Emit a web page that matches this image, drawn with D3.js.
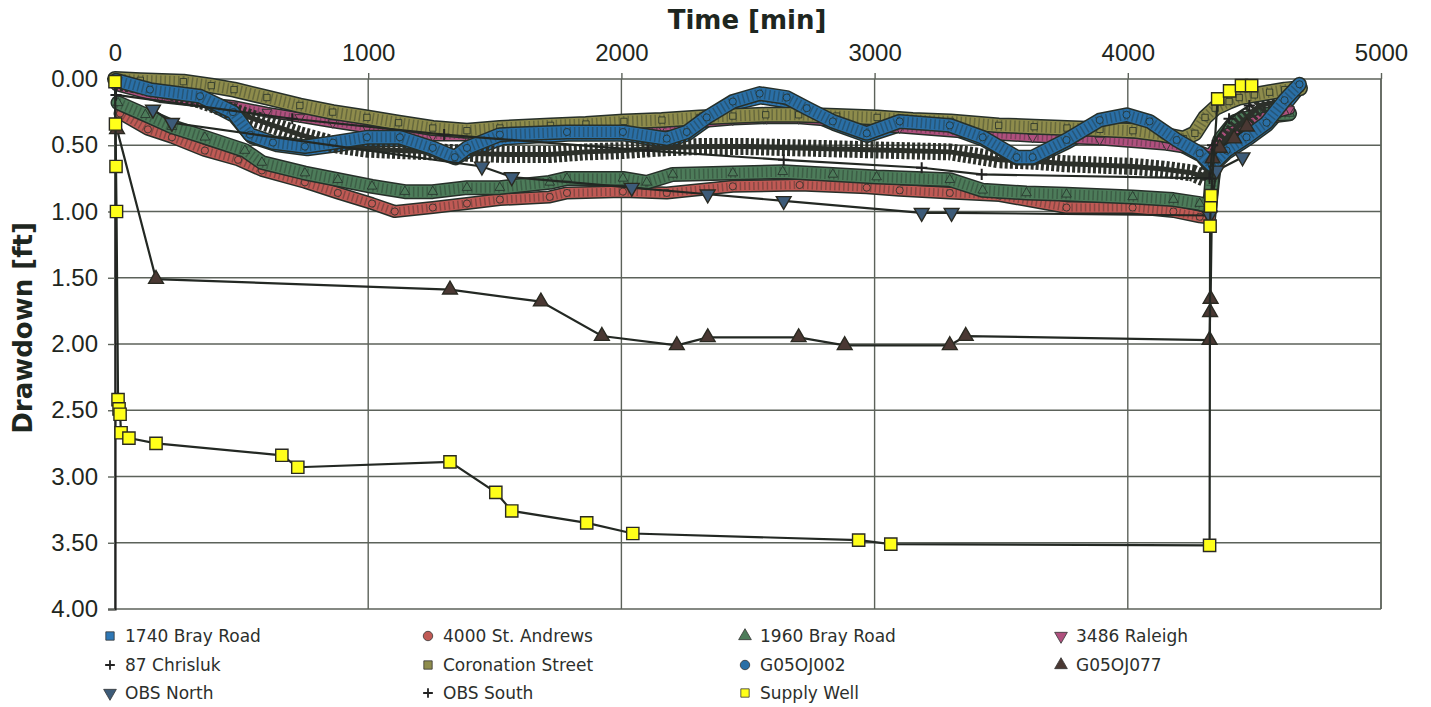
<!DOCTYPE html>
<html>
<head>
<meta charset="utf-8">
<script src="https://cdn.jsdelivr.net/npm/d3@7"></script>
<style>
  body { margin: 0; background: #fff; }
  svg { display: block; font-family: "DejaVu Sans", Verdana, sans-serif; }
</style>
</head>
<body>
<svg id="chart" width="1431" height="707"></svg>
<script>
// ---- data (time in min, drawdown in ft) ----
const xTicks = [0, 1000, 2000, 3000, 4000, 5000]
const yTicks = [0, 0.5, 1, 1.5, 2, 2.5, 3, 3.5, 4]

const bray1740X = [4, 150, 340, 470, 540, 640, 760, 880, 1000, 1130, 1260, 1345, 1400, 1530, 1790, 2010, 2180, 2260, 2340, 2440, 2550, 2650, 2730, 2840, 2970, 3100, 3300, 3430, 3560, 3630, 3760, 3890, 4000, 4090, 4190, 4290, 4330, 4390, 4470, 4550, 4620, 4670]
const bray1740D = [0.03, 0.10, 0.15, 0.28, 0.44, 0.50, 0.53, 0.50, 0.46, 0.46, 0.54, 0.60, 0.54, 0.45, 0.42, 0.42, 0.47, 0.42, 0.31, 0.19, 0.14, 0.17, 0.25, 0.34, 0.43, 0.35, 0.37, 0.46, 0.60, 0.60, 0.48, 0.34, 0.30, 0.35, 0.48, 0.58, 0.67, 0.56, 0.46, 0.35, 0.20, 0.08]

const andrewsX = [20, 130, 225, 355, 486, 580, 750, 880, 1015, 1105, 1255, 1390, 1520, 1717, 1785, 2006, 2179, 2440, 2704, 2969, 3099, 3297, 3494, 3758, 4019, 4180, 4284, 4323, 4339, 4355, 4410, 4457, 4560, 4639]
const andrewsD = [0.26, 0.38, 0.44, 0.54, 0.61, 0.69, 0.78, 0.86, 0.94, 1.00, 0.97, 0.94, 0.91, 0.89, 0.86, 0.85, 0.86, 0.81, 0.80, 0.82, 0.84, 0.86, 0.88, 0.97, 0.97, 1.00, 1.04, 1.05, 0.76, 0.54, 0.48, 0.36, 0.29, 0.27]

const bray1960X = [12, 120, 225, 355, 513, 580, 750, 880, 1015, 1145, 1255, 1390, 1520, 1717, 1785, 2006, 2100, 2203, 2440, 2637, 2835, 3008, 3297, 3427, 3600, 3758, 4019, 4180, 4284, 4323, 4335, 4363, 4422, 4520, 4639]
const bray1960D = [0.18, 0.27, 0.36, 0.44, 0.54, 0.63, 0.71, 0.76, 0.81, 0.85, 0.85, 0.82, 0.82, 0.78, 0.75, 0.75, 0.78, 0.72, 0.71, 0.70, 0.72, 0.74, 0.76, 0.84, 0.86, 0.87, 0.89, 0.91, 0.94, 0.97, 0.69, 0.46, 0.32, 0.27, 0.26]

const raleighX = [4, 178, 320, 466, 600, 730, 860, 995, 1120, 1255, 1390, 1520, 1785, 2006, 2160, 2310, 2440, 2574, 2700, 2835, 2970, 3099, 3364, 3624, 3889, 4153, 4284, 4323, 4382, 4461, 4560, 4639]
const raleighD = [0.05, 0.14, 0.17, 0.20, 0.25, 0.29, 0.33, 0.37, 0.40, 0.43, 0.43, 0.42, 0.40, 0.38, 0.36, 0.33, 0.31, 0.30, 0.30, 0.32, 0.35, 0.37, 0.41, 0.44, 0.46, 0.50, 0.54, 0.57, 0.42, 0.35, 0.27, 0.23]

const chrislukX = [4, 170, 336, 533, 730, 880, 1000, 1125, 1260, 1390, 1550, 1717, 1860, 2006, 2160, 2310, 2500, 2704, 2900, 3099, 3297, 3494, 3630, 3758, 3890, 4019, 4140, 4256, 4303, 4331, 4382, 4461, 4520, 4600]
const chrislukD = [0.02, 0.07, 0.16, 0.29, 0.42, 0.50, 0.53, 0.54, 0.55, 0.56, 0.57, 0.57, 0.55, 0.54, 0.52, 0.51, 0.51, 0.52, 0.53, 0.54, 0.55, 0.61, 0.62, 0.64, 0.65, 0.66, 0.68, 0.71, 0.75, 0.65, 0.46, 0.31, 0.20, 0.17]

const coronationX = [0, 100, 270, 380, 470, 600, 730, 860, 995, 1120, 1255, 1390, 1520, 1720, 1860, 2010, 2160, 2310, 2440, 2570, 2700, 2850, 3010, 3150, 3300, 3490, 3630, 3760, 3890, 4020, 4140, 4220, 4265, 4305, 4345, 4400, 4440, 4500, 4560, 4620, 4680]
const coronationD = [0.00, 0.01, 0.02, 0.05, 0.08, 0.14, 0.20, 0.25, 0.29, 0.33, 0.37, 0.39, 0.37, 0.35, 0.34, 0.32, 0.31, 0.29, 0.28, 0.27, 0.27, 0.28, 0.29, 0.31, 0.32, 0.35, 0.36, 0.37, 0.38, 0.39, 0.42, 0.45, 0.41, 0.29, 0.22, 0.17, 0.14, 0.12, 0.10, 0.08, 0.07]

const g002X = [4, 138, 336, 466, 533, 624, 750, 861, 995, 1125, 1255, 1342, 1390, 1520, 1785, 2006, 2179, 2258, 2337, 2440, 2546, 2653, 2732, 2835, 2969, 3099, 3297, 3427, 3561, 3624, 3758, 3889, 3995, 4086, 4193, 4284, 4331, 4390, 4469, 4548, 4619, 4678]
const g002D = [0.01, 0.08, 0.13, 0.25, 0.42, 0.48, 0.51, 0.48, 0.44, 0.44, 0.52, 0.59, 0.52, 0.42, 0.40, 0.40, 0.45, 0.40, 0.29, 0.17, 0.11, 0.14, 0.22, 0.32, 0.41, 0.32, 0.35, 0.44, 0.59, 0.59, 0.46, 0.31, 0.27, 0.32, 0.46, 0.56, 0.65, 0.54, 0.44, 0.33, 0.16, 0.04]

const g077X = [8, 162, 1323, 1682, 1923, 2219, 2341, 2700, 2882, 3297, 3360, 4323, 4325, 4327, 4335, 4363, 4420, 4470]
const g077D = [0.38, 1.51, 1.59, 1.68, 1.94, 2.01, 1.95, 1.95, 2.01, 2.01, 1.94, 1.97, 1.76, 1.66, 0.60, 0.52, 0.45, 0.36]

const obsNorthX = [150, 225, 1449, 1567, 2041, 2341, 2641, 3186, 3304, 4323, 4351, 4453]
const obsNorthD = [0.23, 0.33, 0.66, 0.74, 0.82, 0.87, 0.92, 1.01, 1.01, 1.03, 0.69, 0.59]

const obsSouthX = [4, 700, 1300, 2104, 2641, 3186, 3423, 4323, 4335, 4400, 4480]
const obsSouthD = [0.12, 0.30, 0.42, 0.54, 0.61, 0.67, 0.72, 0.75, 0.50, 0.30, 0.20]

const supplyX = [0, 2, 4, 6, 12, 16, 20, 24, 55, 162, 659, 722, 1323, 1504, 1567, 1863, 2045, 2937, 3064, 4323, 4325, 4327, 4329, 4355, 4402, 4449, 4489]
const supplyD = [0.02, 0.34, 0.66, 1.00, 2.42, 2.49, 2.53, 2.67, 2.71, 2.75, 2.84, 2.93, 2.89, 3.12, 3.26, 3.35, 3.43, 3.48, 3.51, 3.52, 1.11, 0.96, 0.88, 0.15, 0.09, 0.05, 0.05]

// ---- chart ----
const svg = d3.select('#chart')
const x = d3.scaleLinear([0, 5000], [115, 1381])
const y = d3.scaleLinear([0, 4], [79, 609])

const gridColor = '#5c625a'
const textColor = '#1e2620'

svg.append('g').selectAll('line').data(yTicks).join('line')
    .attr('x1', x(0)).attr('x2', x(5000))
    .attr('y1', d => y(d)).attr('y2', d => y(d))
    .attr('stroke', gridColor).attr('stroke-width', 1.4)

svg.append('g').selectAll('line').data(xTicks).join('line')
    .attr('x1', d => x(d)).attr('x2', d => x(d))
    .attr('y1', y(0)).attr('y2', y(4))
    .attr('stroke', gridColor).attr('stroke-width', 1.4)

const xAxis = d3.axisTop(x).tickValues(xTicks).tickSize(6).tickPadding(12).tickFormat(d3.format('d'))
svg.append('g').attr('transform', `translate(0,${y(0)})`).call(xAxis)
    .call(g => g.select('.domain').remove())
    .call(g => g.selectAll('text').attr('font-size', 24).attr('fill', textColor))
    .call(g => g.selectAll('line').attr('stroke', gridColor).attr('stroke-width', 1.4))

const yAxis = d3.axisLeft(y).tickValues(yTicks).tickSize(7).tickPadding(10).tickFormat(d3.format('.2f'))
svg.append('g').attr('transform', `translate(${x(0)},0)`).call(yAxis)
    .call(g => g.select('.domain').attr('stroke', '#222').attr('stroke-width', 2.2))
    .call(g => g.selectAll('text').attr('font-size', 24).attr('fill', textColor))
    .call(g => g.selectAll('line').attr('stroke', gridColor).attr('stroke-width', 1.4))

svg.append('text').text('Time [min]')
    .attr('x', (x(0) + x(5000)) / 2 - 1).attr('y', 29)
    .attr('text-anchor', 'middle').attr('font-size', 26).attr('font-weight', 'bold').attr('fill', textColor)

svg.append('text').text('Drawdown [ft]')
    .attr('transform', `translate(32,${(y(0) + y(4)) / 2 - 16}) rotate(-90)`)
    .attr('text-anchor', 'middle').attr('font-size', 26).attr('font-weight', 'bold').attr('fill', textColor)

// ---- series ----
const plus = s => `M${-s},0H${s}M0,${-s}V${s}`
function symPath(kind, size) {
    if (kind === 'plus') return plus(Math.sqrt(size) / 1.6)
    const t = {square: d3.symbolSquare, circle: d3.symbolCircle, tri: d3.symbolTriangle, down: d3.symbolTriangle}[kind]
    return d3.symbol(t, size)()
}

const series = [
    {name: '1740 Bray Road', xs: bray1740X, ys: bray1740D, color: '#2f78b6', sym: 'square', band: 11},
    {name: '4000 St. Andrews', xs: andrewsX, ys: andrewsD, color: '#c05a55', sym: 'circle', band: 10},
    {name: '1960 Bray Road', xs: bray1960X, ys: bray1960D, color: '#4d7c5a', sym: 'tri', band: 12},
    {name: '3486 Raleigh', xs: raleighX, ys: raleighD, color: '#b0507e', sym: 'down', band: 8},
    {name: '87 Chrisluk', xs: chrislukX, ys: chrislukD, color: '#2c302a', sym: 'plus', comb: true},
    {name: 'Coronation Street', xs: coronationX, ys: coronationD, color: '#8e8c4c', sym: 'square', band: 13},
    {name: 'G05OJ002', xs: g002X, ys: g002D, color: '#2a6fa6', sym: 'circle', band: 12},
    {name: 'G05OJ077', xs: g077X, ys: g077D, color: '#4a3833', sym: 'tri', line: true, size: 95},
    {name: 'OBS North', xs: obsNorthX, ys: obsNorthD, color: '#3d5b78', sym: 'down', line: true, size: 95},
    {name: 'OBS South', xs: obsSouthX, ys: obsSouthD, color: '#222', sym: 'plus', line: true, size: 80},
    {name: 'Supply Well', xs: supplyX, ys: supplyD, color: '#ffff1a', sym: 'square', line: true, size: 150}
]

const line = d3.line().x(d => x(d[0])).y(d => y(d[1])).curve(d3.curveLinear)
const plot = svg.append('g')

series.forEach(s => {
    const pts = s.xs.map((v, i) => [v, s.ys[i]])
    const g = plot.append('g')
    if (s.band) {
        g.append('path').attr('d', line(pts)).attr('fill', 'none')
            .attr('stroke', '#27302a').attr('stroke-width', s.band + 3)
            .attr('stroke-linejoin', 'round').attr('stroke-linecap', 'round')
        g.append('path').attr('d', line(pts)).attr('fill', 'none')
            .attr('stroke', s.color).attr('stroke-width', s.band)
            .attr('stroke-linejoin', 'round').attr('stroke-linecap', 'round')
        g.append('path').attr('d', line(pts)).attr('fill', 'none')
            .attr('stroke', '#1f2822').attr('stroke-opacity', 0.35).attr('stroke-width', s.band - 2)
            .attr('stroke-dasharray', '1.5,3')
        g.selectAll('path.m').data(pts).join('path').attr('class', 'm')
            .attr('d', symPath(s.sym, 40))
            .attr('transform', d => `translate(${x(d[0])},${y(d[1])})${s.sym === 'down' ? ' rotate(180)' : ''}`)
            .attr('fill', s.color).attr('stroke', '#25302a').attr('stroke-width', 0.8)
    } else if (s.comb) {
        g.append('path').attr('d', line(pts)).attr('fill', 'none')
            .attr('stroke', s.color).attr('stroke-width', 17).attr('stroke-dasharray', '3,2.2')
        g.append('path').attr('d', line(pts)).attr('fill', 'none')
            .attr('stroke', s.color).attr('stroke-width', 5).attr('stroke-linejoin', 'round')
    } else {
        g.append('path').attr('d', line(pts)).attr('fill', 'none')
            .attr('stroke', '#232823').attr('stroke-width', 2.2)
        g.selectAll('path.m').data(pts).join('path').attr('class', 'm')
            .attr('d', symPath(s.sym, s.size))
            .attr('transform', d => `translate(${x(d[0])},${y(d[1])})${s.sym === 'down' ? ' rotate(180)' : ''}`)
            .attr('fill', s.sym === 'plus' ? 'none' : s.color)
            .attr('stroke', s.sym === 'plus' ? '#222' : '#2a2a22')
            .attr('stroke-width', s.sym === 'plus' ? 2 : 1.4)
    }
})

// right frame line
svg.append('line').attr('x1', x(5000)).attr('x2', x(5000)).attr('y1', y(0)).attr('y2', y(4))
    .attr('stroke', gridColor).attr('stroke-width', 1.4)

// ---- legend ----
const legCols = [110, 428, 745, 1061]
const legRows = [636, 665, 693]
const legend = svg.append('g')
series.forEach((s, i) => {
    const cx = legCols[i % 4], cy = legRows[Math.floor(i / 4)]
    const item = legend.append('g').attr('transform', `translate(${cx},${cy})`)
    item.append('path')
        .attr('d', symPath(s.sym, s.sym === 'plus' ? 60 : 70))
        .attr('transform', s.sym === 'down' ? 'rotate(180)' : null)
        .attr('fill', s.sym === 'plus' ? 'none' : s.color)
        .attr('stroke', s.sym === 'plus' ? '#222' : '#333')
        .attr('stroke-width', s.sym === 'plus' ? 1.8 : 0.8)
    item.append('text').text(s.name)
        .attr('x', 15).attr('y', 6)
        .attr('font-size', 17).attr('fill', '#2c2f2c')
})
</script>
</body>
</html>
